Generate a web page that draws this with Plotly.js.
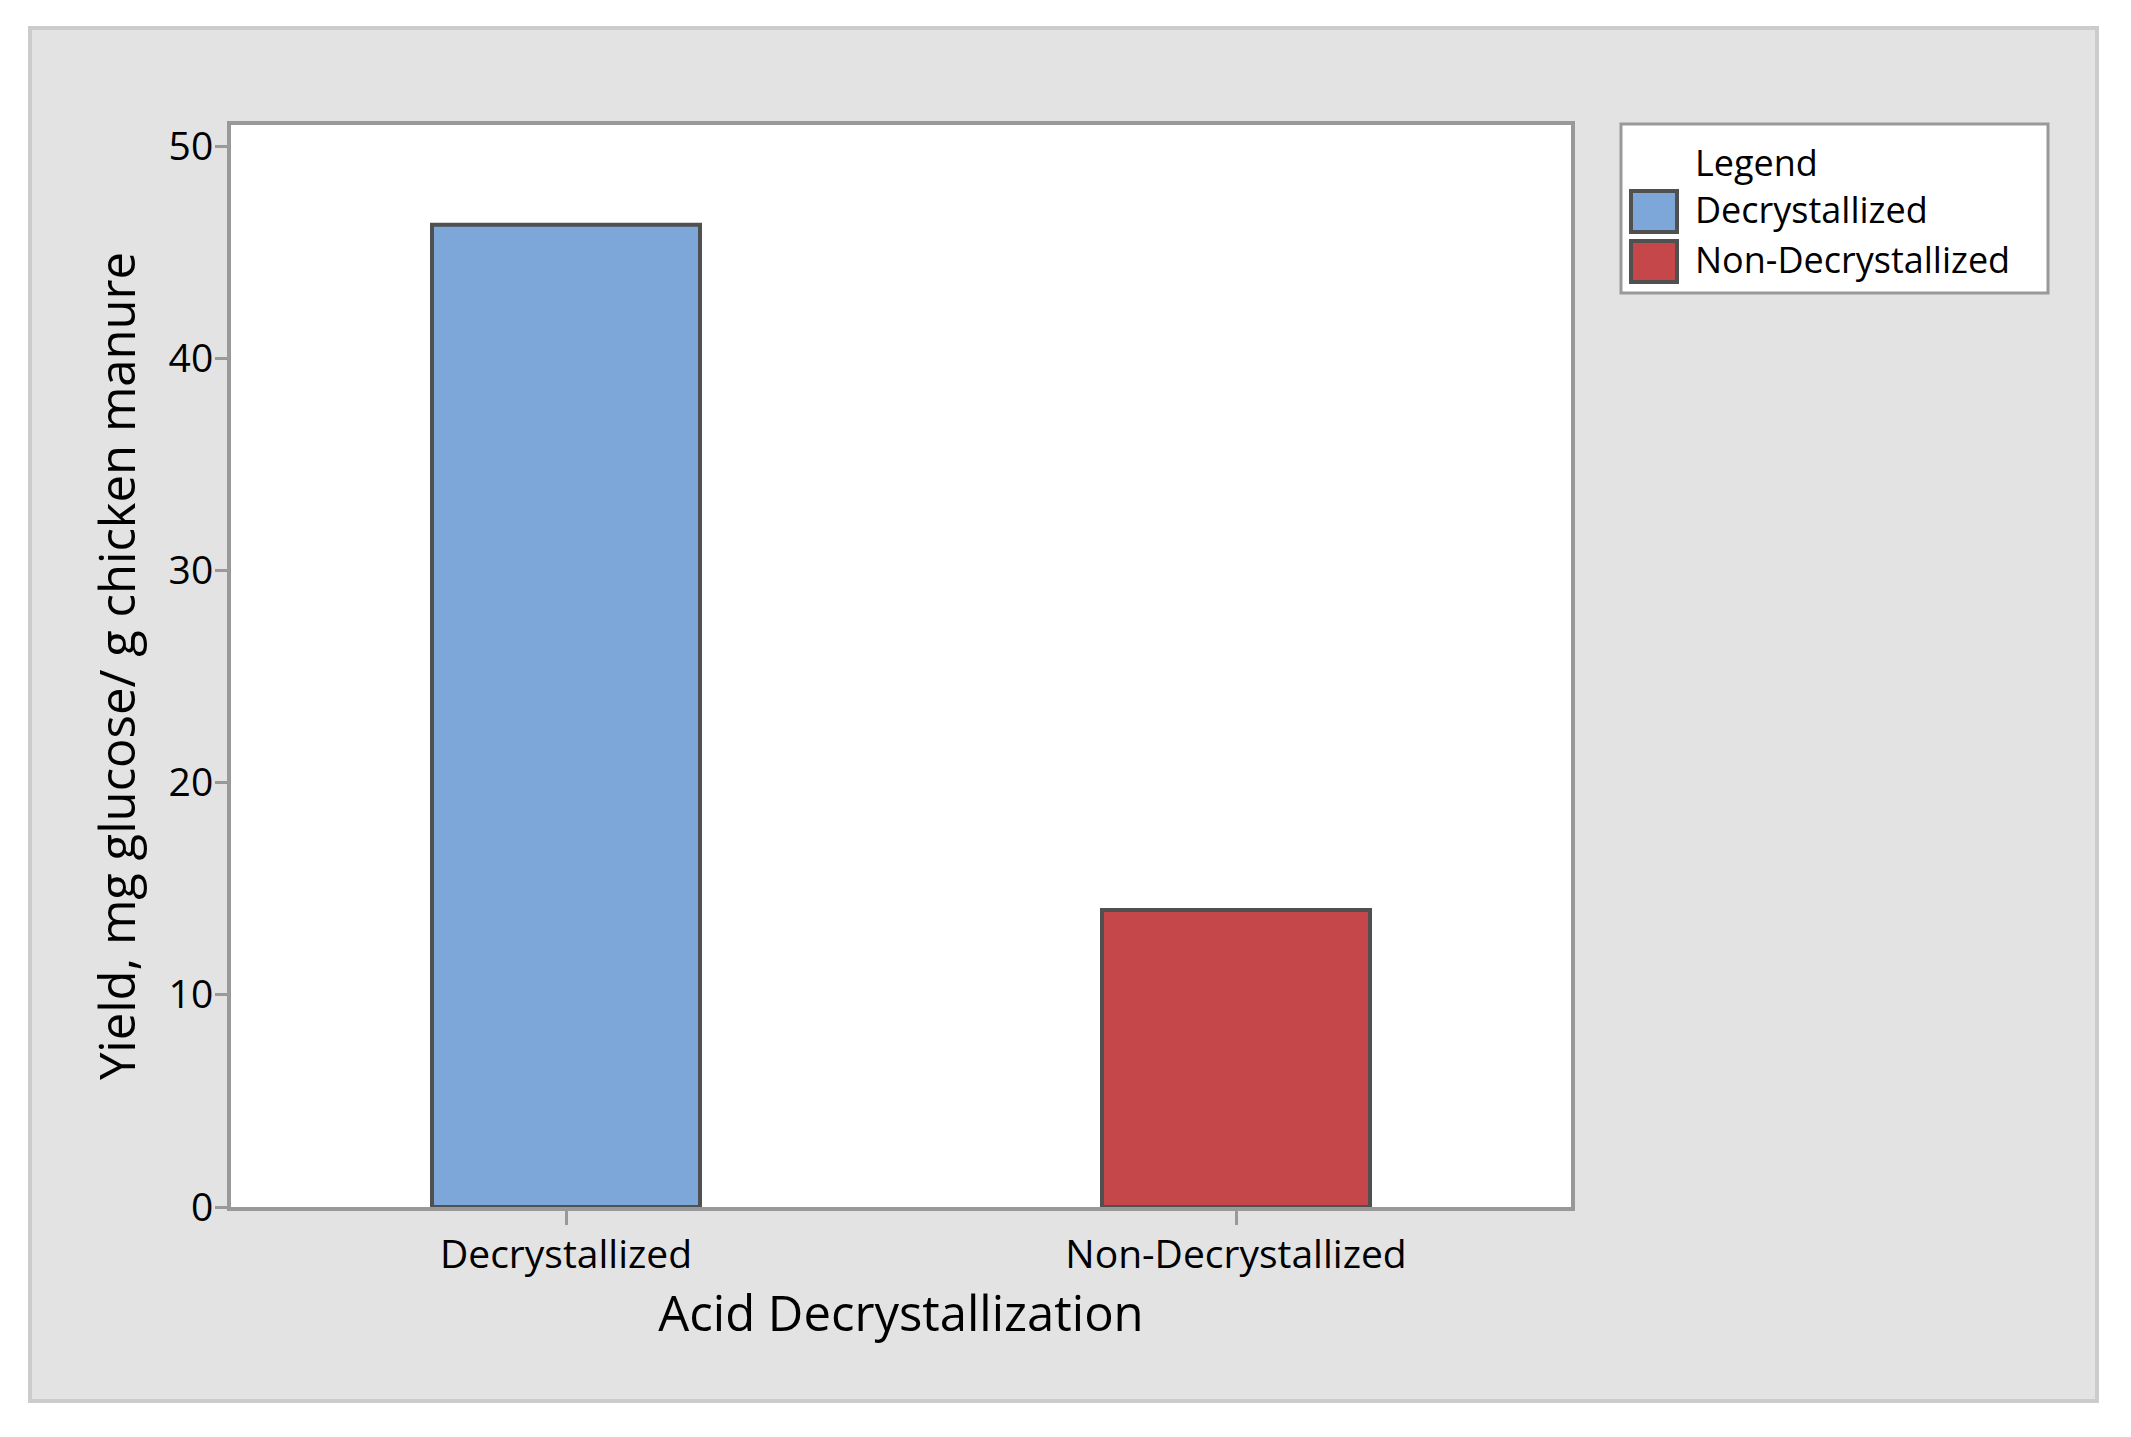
<!DOCTYPE html>
<html>
<head>
<meta charset="utf-8">
<script src="https://cdn.plot.ly/plotly-3.0.1.min.js"></script>
<style>
  html, body { margin: 0; padding: 0; background: #ffffff; }
  #wrap { position: absolute; left: 28px; top: 26px; width: 2071px; height: 1377px;
          border: 4px solid #cccccc; box-sizing: border-box; background: #e3e3e3; }
  #chart { width: 2063px; height: 1369px; }
</style>
</head>
<body>
<div id="wrap"><div id="chart"></div></div>
<script>
// ---- data ----
const categories = ['Decrystallized', 'Non-Decrystallized'];
const yieldValues = [46.3, 14.0];
const barColors = ['#7da7d9', '#c5474a'];
const yTickValues = [0, 10, 20, 30, 40, 50];
const legendTitle = 'Legend';
const xTitle = 'Acid Decrystallization';
const yTitle = 'Yield, mg glucose/ g chicken manure';

// ---- layout geometry (pixels inside chart div) ----
const W = 2063, H = 1369;
const M = { l: 199, r: 524, t: 95, b: 192 };
const PW = W - M.l - M.r, PH = H - M.t - M.b;
const px = X => (X - M.l) / PW;
const py = Y => (M.t + PH - Y) / PH;

const FONT = '"Open Sans", "Noto Sans", sans-serif';
const outline = '#505050';

const trace = {
  type: 'bar',
  x: categories,
  y: yieldValues,
  width: 0.4,
  marker: { color: barColors, line: { color: outline, width: 4 } },
  showlegend: false,
  hoverinfo: 'x+y'
};

// manual legend (box, swatches, labels)
const shapes = [
  { type: 'rect', xref: 'paper', yref: 'paper', x0: px(1589), x1: px(2016), y0: py(94), y1: py(263),
    line: { color: '#999999', width: 3 }, fillcolor: '#ffffff', layer: 'below' }
];
const annotations = [
  { xref: 'paper', yref: 'paper', x: px(1661), y: py(132), xanchor: 'left', yanchor: 'middle',
    text: legendTitle, showarrow: false, font: { family: FONT, size: 36, color: '#000' } }
];
const rowY = [[161, 202, 179], [211, 252, 229]];
categories.forEach((c, i) => {
  shapes.push({ type: 'rect', xref: 'paper', yref: 'paper', x0: px(1599), x1: px(1645),
    y0: py(rowY[i][0]), y1: py(rowY[i][1]), line: { color: outline, width: 4 },
    fillcolor: barColors[i] });
  annotations.push({ xref: 'paper', yref: 'paper', x: px(1661), y: py(rowY[i][2]),
    xanchor: 'left', yanchor: 'middle', text: c, showarrow: false,
    font: { family: FONT, size: 36, color: '#000' } });
});

const layout = {
  width: W, height: H,
  margin: M,
  paper_bgcolor: '#e3e3e3',
  plot_bgcolor: '#ffffff',
  font: { family: FONT, color: '#000' },
  showlegend: false,
  xaxis: {
    type: 'category',
    range: [-0.5, 1.5],
    showline: true, mirror: true, linecolor: '#999999', linewidth: 4,
    ticks: 'outside', ticklen: 14, tickwidth: 3, tickcolor: '#999999',
    ticklabelstandoff: -4,
    tickfont: { family: FONT, size: 39, color: '#000' },
    showgrid: false, zeroline: false,
    title: { text: xTitle, font: { family: FONT, size: 49, color: '#000' }, standoff: 20 },
    automargin: false
  },
  yaxis: {
    range: [0, 51],
    tickvals: yTickValues,
    showline: true, mirror: true, linecolor: '#999999', linewidth: 4,
    ticks: 'outside', ticklen: 12, tickwidth: 3, tickcolor: '#999999',
    ticklabelstandoff: -6,
    tickfont: { family: FONT, size: 39, color: '#000' },
    showgrid: false, zeroline: false,
    title: { text: yTitle, font: { family: FONT, size: 49, color: '#000' }, standoff: 18 },
    automargin: false
  },
  shapes: shapes,
  annotations: annotations
};

Plotly.newPlot('chart', [trace], layout, { displayModeBar: false, staticPlot: true });
</script>
</body>
</html>
